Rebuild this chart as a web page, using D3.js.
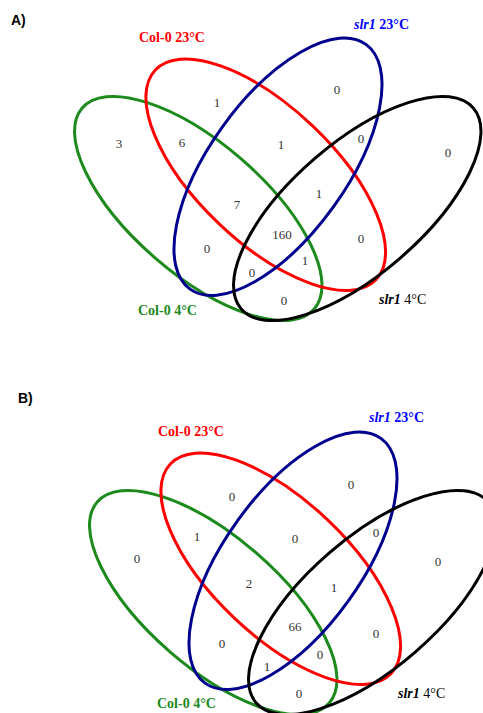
<!DOCTYPE html>
<html>
<head>
<meta charset="utf-8">
<script src="https://cdn.jsdelivr.net/npm/d3@7"></script>
<style>
  body { margin: 0; background: #fff; }
  svg { display: block; }
</style>
</head>
<body>
<div id="chart"></div>
<script>
// sets: Col-0 4°C (G), Col-0 23°C (R), slr1 23°C (B), slr1 4°C (K)
let set_keys = ['G', 'R', 'B', 'K'];
let set_genotype = ['Col-0', 'Col-0', 'slr1', 'slr1'];
let set_temp = ['4°C', '23°C', '23°C', '4°C'];

let region_keys = ['G', 'GR', 'R', 'B', 'RB', 'BK', 'K', 'GRB', 'RBK', 'GRBK', 'RK', 'GB', 'GRK', 'GBK', 'GK'];
let counts_a = [3, 6, 1, 0, 1, 0, 0, 7, 1, 160, 0, 0, 1, 0, 0];
let counts_b = [0, 1, 0, 0, 0, 0, 0, 2, 1, 66, 0, 0, 0, 1, 0];
let panel_names = ['A)', 'B)'];

// ---- layout (not data) ----
let width = 483, height = 713;
let colors = {G: '#1c8a1c', R: '#ff0000', B: '#00008f', K: '#000000'};
let label_colors = {G: '#1c8a1c', R: '#ff0000', B: '#0000ff', K: '#000000'};

// ellipse geometry in panel-local units: cx, cy, rx, ry, angle
let ellipse_geo = {
  G: [198.25, 208.5, 153.5, 65.6, 40.9],
  R: [265.75, 174.75, 152.2, 67.7, 43.5],
  B: [278, 166.75, 150.7, 68.4, -54.3],
  K: [357.25, 208.5, 153.5, 65.6, -40.9]
};

let panels = [
  {
    name: panel_names[0], counts: counts_a, ox: 0, oy: 0, title_xy: [11, 25],
    labels: {R: [139, 42], B: [354, 29], G: [138, 315], K: [379, 304]},
    spots: {G: [119, 143], GR: [182, 142], R: [217, 102], B: [337, 89], RB: [281, 144], BK: [361, 138],
      K: [448, 152], GRB: [237, 204], RBK: [319, 193], GRBK: [282, 234], RK: [361, 238], GB: [207, 248],
      GRK: [305, 260], GBK: [252, 272], GK: [284, 300]}
  },
  {
    name: panel_names[1], counts: counts_b, ox: 15, oy: 394, title_xy: [18, 403],
    labels: {R: [143, 42], B: [354, 28], G: [142, 314], K: [383, 304]},
    spots: {G: [122, 164], GR: [182, 142], R: [217, 102], B: [336, 90], RB: [280, 144], BK: [361, 138],
      K: [423, 167], GRB: [234, 189], RBK: [319, 193], GRBK: [280, 232], RK: [361, 239], GB: [207, 249],
      GRK: [305, 260], GBK: [252, 272], GK: [284, 299]}
  }
];

let svg = d3.select('#chart').append('svg').attr('width', width).attr('height', height);

panels.forEach(function(p){
  let x = d3.scaleLinear().domain([0, width]).range([p.ox, p.ox + width]);
  let y = d3.scaleLinear().domain([0, height]).range([p.oy, p.oy + height]);
  let g = svg.append('g').attr('class', 'panel');

  // panel letter
  g.append('text')
    .attr('x', p.title_xy[0]).attr('y', p.title_xy[1])
    .attr('font-family', 'Liberation Sans, Arial, sans-serif')
    .attr('font-weight', 'bold').attr('font-size', 14)
    .text(p.name);

  g.selectAll('.ell').data(set_keys).enter().append('ellipse')
    .attr('class', 'ell')
    .attr('transform', d => 'translate(' + x(ellipse_geo[d][0]) + ',' + y(ellipse_geo[d][1]) + ') rotate(' + ellipse_geo[d][4] + ')')
    .attr('rx', d => ellipse_geo[d][2]).attr('ry', d => ellipse_geo[d][3])
    .attr('fill', 'none').attr('stroke', d => colors[d]).attr('stroke-width', 3);

  // set labels
  let lab = g.selectAll('.lab').data(set_keys).enter().append('text')
    .attr('class', 'lab')
    .attr('x', d => x(p.labels[d][0])).attr('y', d => y(p.labels[d][1]))
    .attr('font-family', 'Liberation Serif, Times New Roman, serif')
    .attr('font-size', 14).attr('font-weight', 'bold')
    .attr('fill', d => label_colors[d]);
  lab.each(function(d, i){
    let t = d3.select(this);
    t.append('tspan').attr('font-style', set_genotype[i] == 'slr1' ? 'italic' : 'normal').text(set_genotype[i]);
    t.append('tspan').attr('font-weight', d == 'K' ? 'normal' : 'bold').text(' ' + set_temp[i]);
  });

  // region counts
  g.selectAll('.num').data(region_keys).enter().append('text')
    .attr('class', 'num')
    .attr('x', d => x(p.spots[d][0])).attr('y', d => y(p.spots[d][1]) + 4.5)
    .attr('text-anchor', 'middle')
    .attr('font-family', 'Liberation Serif, Times New Roman, serif')
    .attr('font-size', 13).attr('fill', '#333')
    .text((d, i) => p.counts[i]);
});
</script>
</body>
</html>
